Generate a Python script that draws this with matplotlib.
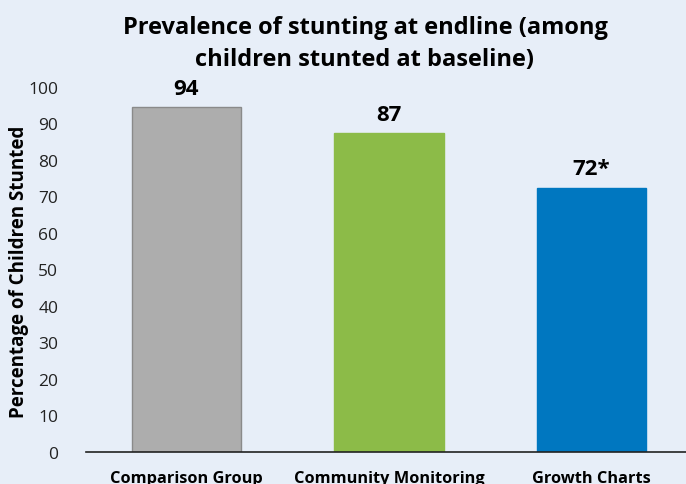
import matplotlib.pyplot as plt

groups = ['Comparison Group', 'Community Monitoring', 'Growth Charts']
values = [94.4, 87.3, 72.3]
labels = ['94', '87', '72*']
colors = ['#adadad', '#8cbb48', '#0077c0']
edges = ['#8a8a8a', '#8cbb48', '#0077c0']
yticks = [0, 10, 20, 30, 40, 50, 60, 70, 80, 90, 100]

plt.rcParams['font.family'] = ['Open Sans', 'DejaVu Sans']
bg = '#e7eef8'

fig = plt.figure(figsize=(6.86, 4.85), dpi=100, facecolor=bg)
ax = fig.add_axes([0.1254, 0.066, 0.8746, 0.7526], facecolor=bg)

x = range(len(groups))
ax.bar(x, values, width=0.54, color=colors, edgecolor=edges, linewidth=1)
for i, (v, lab) in enumerate(zip(values, labels)):
    ax.text(i, v + 2.4, lab, ha='center', va='bottom', fontsize=16,
            fontweight='bold', clip_on=False)

ax.set_xlim(-0.496, 2.467)
ax.set_ylim(0, 100)
ax.set_yticks(yticks)
ax.set_xticks(list(x))
ax.set_xticklabels(groups, fontsize=11.8, fontweight='bold')
ax.tick_params(axis='y', length=0, labelsize=12.5, pad=20, labelcolor='#222222')
ax.tick_params(axis='x', length=0, pad=13)
for s in ['left', 'right', 'top']:
    ax.spines[s].set_visible(False)
ax.spines['bottom'].set_linewidth(1.2)
ax.spines['bottom'].set_color('#222222')

fig.text(0.028, 0.44, 'Percentage of Children Stunted', rotation=90,
         ha='center', va='center', fontsize=13.5, fontweight='bold')
fig.text(0.532, 0.91, 'Prevalence of stunting at endline (among\nchildren stunted at baseline)',
         ha='center', va='center', fontsize=17, fontweight='bold', linespacing=1.45)

fig.savefig('out.png', dpi=100, facecolor=bg)
